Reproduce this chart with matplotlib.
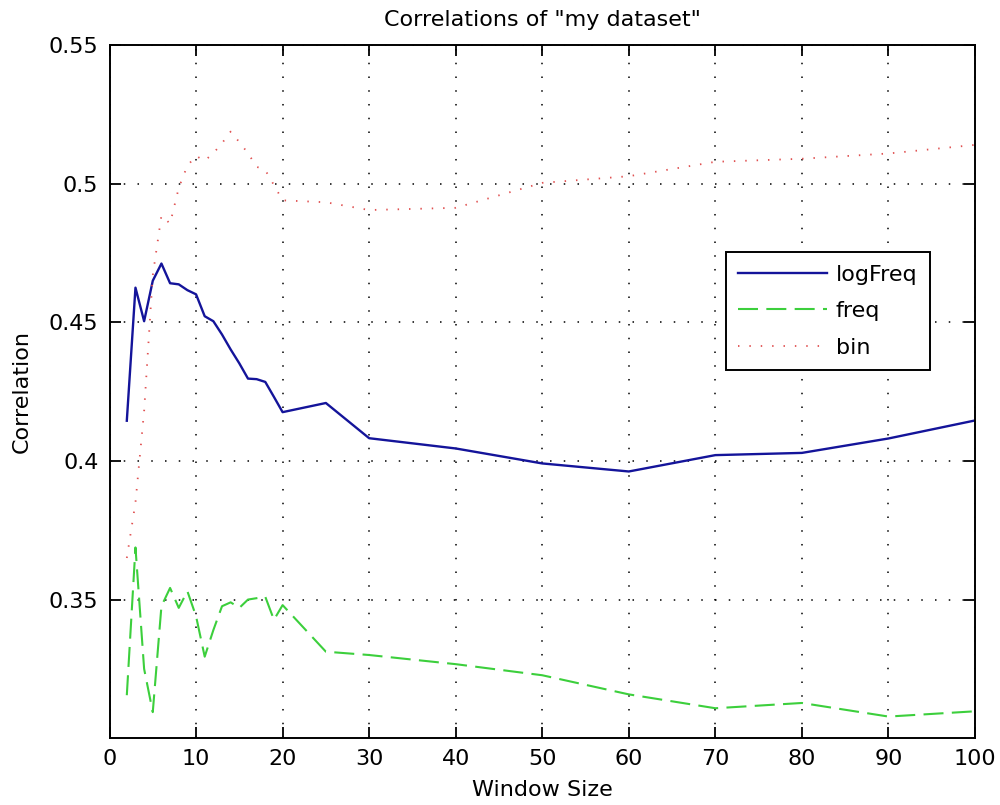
import numpy as np
import matplotlib
matplotlib.use('Agg')
import matplotlib.pyplot as plt

# window sizes used for the correlation runs
window = [2, 3, 4, 5, 6, 7, 8, 9, 10, 11, 12, 13, 14, 15, 16, 17, 18, 19, 20,
          25, 30, 40, 50, 60, 70, 80, 90, 100]

log_freq = [0.4145, 0.4625, 0.4504, 0.4650, 0.4712, 0.4641, 0.4637, 0.4616, 0.4601,
            0.4522, 0.4504, 0.4456, 0.4402, 0.4352, 0.4297, 0.4295, 0.4285, 0.4231,
            0.4176, 0.4209, 0.4082, 0.4045, 0.3991, 0.3962, 0.4021, 0.4029, 0.4081, 0.4146]

freq = [0.3155, 0.3688, 0.3250, 0.3094, 0.3476, 0.3542, 0.3470, 0.3530, 0.3440,
        0.3294, 0.3390, 0.3476, 0.3490, 0.3470, 0.3500, 0.3505, 0.3510, 0.3427,
        0.3480, 0.3312, 0.3300, 0.3267, 0.3227, 0.3158, 0.3108, 0.3127, 0.3078, 0.3097]

bins = [0.3650, 0.3850, 0.4180, 0.4670, 0.4885, 0.4856, 0.4985, 0.5065, 0.5100,
        0.5083, 0.5110, 0.5146, 0.5188, 0.5150, 0.5110, 0.5061, 0.5049, 0.4995,
        0.4940, 0.4933, 0.4905, 0.4913, 0.5003, 0.5027, 0.5079, 0.5090, 0.5109, 0.5140]

xticks = [0, 10, 20, 30, 40, 50, 60, 70, 80, 90, 100]
yticks = [0.35, 0.4, 0.45, 0.5, 0.55]

plt.rcParams['font.family'] = 'DejaVu Sans'

fig = plt.figure(figsize=(10, 8.05), dpi=100)
ax = fig.add_axes([0.1095, 0.083, 0.8655, 0.861])

ax.plot(window, log_freq, color='#14149a', lw=1.7, label='logFreq')
ax.plot(window, freq, color='#3ccf3c', lw=1.5, linestyle=(0, (9.6, 4.0)), label='freq')
ax.plot(window, bins, color='#e05050', lw=1.3, linestyle=(0, (0.8, 5.5)), label='bin')

ax.set_xlim(0, 100)
ax.set_ylim(0.3, 0.55)
ax.set_xticks(xticks)
ax.set_yticks(yticks)
ax.set_yticklabels(['0.35', '0.4', '0.45', '0.5', '0.55'])

ax.grid(True, color='black', linestyle=(0, (1, 8)), lw=1.1)
ax.tick_params(direction='in', length=8, width=1.3, top=True, right=True,
               labelsize=16, pad=8)
for sp in ax.spines.values():
    sp.set_linewidth(1.4)

ax.set_xlabel('Window Size', fontsize=16, labelpad=8)
ax.set_ylabel('Correlation', fontsize=16, labelpad=12)
ax.set_title('Correlations of "my dataset"', fontsize=16, pad=14)

leg = ax.legend(loc='upper left', bbox_to_anchor=(0.712, 0.701), borderaxespad=0,
                fontsize=16, fancybox=False, framealpha=1, edgecolor='black',
                handlelength=4.0, handletextpad=0.4, borderpad=0.55,
                labelspacing=0.75)
leg.get_frame().set_linewidth(1.4)

fig.savefig('out.png', dpi=100)
